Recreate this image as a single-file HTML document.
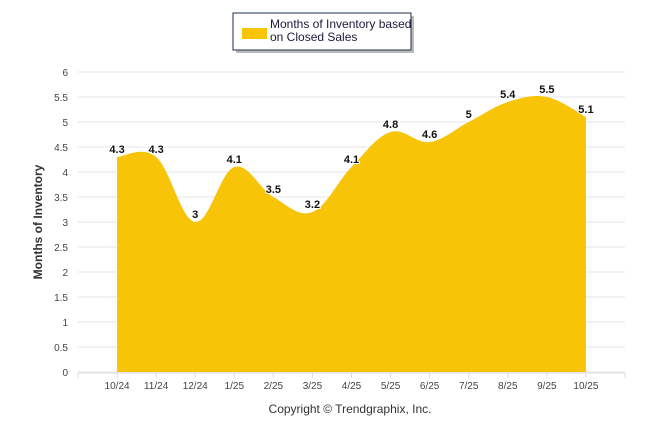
<!DOCTYPE html>
<html><head><meta charset="utf-8"><style>
body{margin:0;background:#fff;}
svg{display:block;font-family:"Liberation Sans",sans-serif;}
</style></head><body>
<svg id="c" width="646" height="434" viewBox="0 0 646 434">
<g>
<rect x="236" y="16" width="178" height="37" fill="#777" opacity="0.5"/>
<rect x="233" y="13" width="178" height="37" fill="#fff" stroke="#1f2f4f" stroke-width="1"/>
<rect x="242" y="28" width="25" height="11" fill="#F7C408"/>
<text x="270" y="28" font-size="12" fill="#1a1a3a">Months of Inventory based</text>
<text x="270" y="41" font-size="12" fill="#1a1a3a">on Closed Sales</text>
</g>
<g id="grid"></g>
<g id="area"></g>
<g id="labels"></g>
<text x="42" y="222" font-size="12" font-weight="bold" fill="#333" transform="rotate(-90 42 222)" text-anchor="middle">Months of Inventory</text>
<text x="350" y="413" font-size="12" fill="#333" text-anchor="middle">Copyright © Trendgraphix, Inc.</text>
</svg>
<script>
const categories=["10/24","11/24","12/24","1/25","2/25","3/25","4/25","5/25","6/25","7/25","8/25","9/25","10/25"];
const values=[4.3,4.3,3,4.1,3.5,3.2,4.1,4.8,4.6,5,5.4,5.5,5.1];
const yTicks=[0,0.5,1,1.5,2,2.5,3,3.5,4,4.5,5,5.5,6];
const NS="http://www.w3.org/2000/svg";
const x0=78,x1=625,step=(x1-x0)/14;
const X=i=>x0+step*(i+1);
const Y=v=>372-v*50;
function mk(t,a,p){const e=document.createElementNS(NS,t);for(const k in a)e.setAttribute(k,a[k]);p.appendChild(e);return e;}
const g=document.getElementById('grid');
yTicks.forEach(v=>{
 const l=mk('line',{x1:x0,x2:x1,y1:Y(v),y2:Y(v),stroke:'#e6e6e6'},g);
 
 
 const t=mk('text',{x:68,y:Y(v)+4,'font-size':10,fill:'#444','text-anchor':'end'},g);
 t.textContent=v;
 
 
});
mk('line',{x1:x0,x2:x1,y1:373,y2:373,stroke:'#ddd'},g);
for(let i=0;i<=14;i++){mk('line',{x1:x0+step*i,x2:x0+step*i,y1:373,y2:378,stroke:'#ddd'},g);}
categories.forEach((c,i)=>{
 const t=mk('text',{x:X(i),y:389,'font-size':10,fill:'#444','text-anchor':'middle'},g);
 t.textContent=c;
 
 
});
// smooth path (catmull-rom)
const pts=values.map((v,i)=>[X(i),Y(v)]);
let d=`M${pts[0][0]},${Y(0)}L${pts[0][0]},${pts[0][1]}`;
for(let i=0;i<pts.length-1;i++){
 const p0=pts[Math.max(0,i-1)],p1=pts[i],p2=pts[i+1],p3=pts[Math.min(pts.length-1,i+2)];
 const t=0.18;
 const c1=[p1[0]+(p2[0]-p0[0])*t,p1[1]+(p2[1]-p0[1])*t];
 const c2=[p2[0]-(p3[0]-p1[0])*t,p2[1]-(p3[1]-p1[1])*t];
 d+=`C${c1[0]},${c1[1]} ${c2[0]},${c2[1]} ${p2[0]},${p2[1]}`;
}
d+=`L${pts[pts.length-1][0]},${Y(0)}Z`;
const a=mk('path',{d:d,fill:'#F7C408'},document.getElementById('area'));


const lb=document.getElementById('labels');
values.forEach((v,i)=>{
 const t=mk('text',{x:X(i),y:Y(v)-4,'font-size':11,'font-weight':'bold',fill:'#111','text-anchor':'middle',stroke:'#fff','stroke-width':2,'paint-order':'stroke'},lb);
 t.textContent=v;
 
 
});
</script>
</body></html>
